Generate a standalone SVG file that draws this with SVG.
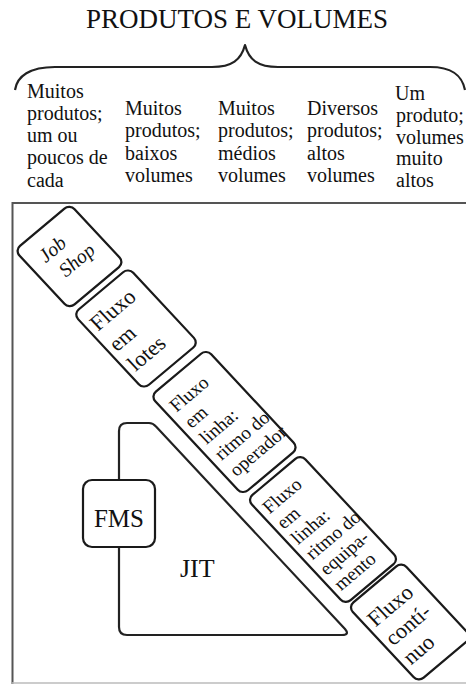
<svg xmlns="http://www.w3.org/2000/svg" width="466" height="684" viewBox="0 0 466 684">
  <style>
    text { font-family: "Liberation Serif", "Times New Roman", serif; fill: #111; }
    .title { font-size: 27px; }
    .head { font-size: 20px; }
    .box { fill: #fff; stroke: #1a1a1a; stroke-width: 2.2; }
    .frame { fill: none; stroke: #555; stroke-width: 2; }
    .line { fill: none; stroke: #222; stroke-width: 2.2; stroke-linejoin: round; }
  </style>
  <rect width="466" height="684" fill="#fff"/>

  <!-- title and brace -->
  <g id="title">
    <text class="title" x="86" y="28">PRODUTOS E VOLUMES</text>
    <path class="line" d="M15,90 C17,76 30,67 55,67 L212,67 C232,67 241,60 245,45 C249,60 258,67 278,67 L430,67 C452,67 462,75 465,90"/>
  </g>

  <!-- column headings -->
  <g id="headings">
    <text class="head" x="27" y="98">Muitos</text>
    <text class="head" x="27" y="120">produtos;</text>
    <text class="head" x="27" y="142">um ou</text>
    <text class="head" x="27" y="164">poucos de</text>
    <text class="head" x="27" y="187">cada</text>

    <text class="head" x="125" y="115">Muitos</text>
    <text class="head" x="125" y="137">produtos;</text>
    <text class="head" x="125" y="160">baixos</text>
    <text class="head" x="125" y="182">volumes</text>

    <text class="head" x="218" y="115">Muitos</text>
    <text class="head" x="218" y="137">produtos;</text>
    <text class="head" x="218" y="160">médios</text>
    <text class="head" x="218" y="182">volumes</text>

    <text class="head" x="307" y="115">Diversos</text>
    <text class="head" x="307" y="137">produtos;</text>
    <text class="head" x="307" y="160">altos</text>
    <text class="head" x="307" y="182">volumes</text>

    <text class="head" x="395" y="100">Um</text>
    <text class="head" x="396" y="122">produto;</text>
    <text class="head" x="396" y="144">volumes</text>
    <text class="head" x="396" y="165">muito</text>
    <text class="head" x="396" y="187">altos</text>
  </g>

  <!-- frame -->
  <g id="frame">
    <path class="frame" d="M12.5,684 V203 H466"/>
    <path d="M12,683 H466" stroke="#bbb" stroke-width="1.5" fill="none"/>
  </g>

  <!-- JIT region and FMS -->
  <g id="jit">
    <path class="line" d="M127,423 H149 Q153,423 156,426.5 L345,629 Q350,635 342,635 H127 Q119,635 119,627 V431 Q119,423 127,423 Z"/>
    <text x="180" y="577" style="font-size:26px">JIT</text>
  </g>
  <g id="fms">
    <rect class="box" x="83" y="480" width="72" height="67" rx="9"/>
    <text x="119" y="527" text-anchor="middle" style="font-size:25px">FMS</text>
  </g>

  <!-- process boxes along the diagonal (local x across, local y along the chain) -->
  <g id="job-shop" transform="matrix(0.766 -0.643 0.682 0.731 69.5 256.5)">
    <rect class="box" x="-36" y="-40" width="72" height="80" rx="7"/>
    <g style="font-size:20px;font-style:italic">
      <text x="-22" y="-10">Job</text>
      <text x="-17" y="14">Shop</text>
    </g>
  </g>

  <g id="fluxo-lotes" transform="matrix(0.766 -0.643 0.682 0.731 136 328.5)">
    <rect class="box" x="-36" y="-51.5" width="72" height="103" rx="7"/>
    <g style="font-size:22px">
      <text x="-30" y="-22">Fluxo</text>
      <text x="-30" y="6">em</text>
      <text x="-30" y="33">lotes</text>
    </g>
  </g>

  <g id="fluxo-operador" transform="matrix(0.766 -0.643 0.682 0.731 224.5 422)">
    <rect class="box" x="-36.5" y="-67.5" width="73" height="135" rx="7"/>
    <g style="font-size:19px">
      <text x="-29" y="-38">Fluxo</text>
      <text x="-29" y="-16">em</text>
      <text x="-29" y="6">linha:</text>
      <text x="-29" y="28">ritmo do</text>
      <text x="-29" y="50">operador</text>
    </g>
  </g>

  <g id="fluxo-equipamento" transform="matrix(0.766 -0.643 0.682 0.731 323 529.5)">
    <rect class="box" x="-35" y="-72" width="70" height="144" rx="7"/>
    <g style="font-size:19px">
      <text x="-29" y="-46">Fluxo</text>
      <text x="-29" y="-25">em</text>
      <text x="-29" y="-4">linha:</text>
      <text x="-29" y="17">ritmo do</text>
      <text x="-29" y="38">equipa-</text>
      <text x="-29" y="59">mento</text>
    </g>
  </g>

  <g id="fluxo-continuo" transform="matrix(0.766 -0.643 0.682 0.731 410 622)">
    <rect class="box" x="-35" y="-51.5" width="70" height="103" rx="7"/>
    <g style="font-size:22px">
      <text x="-29" y="-18">Fluxo</text>
      <text x="-29" y="8">contí-</text>
      <text x="-29" y="34">nuo</text>
    </g>
  </g>
</svg>
